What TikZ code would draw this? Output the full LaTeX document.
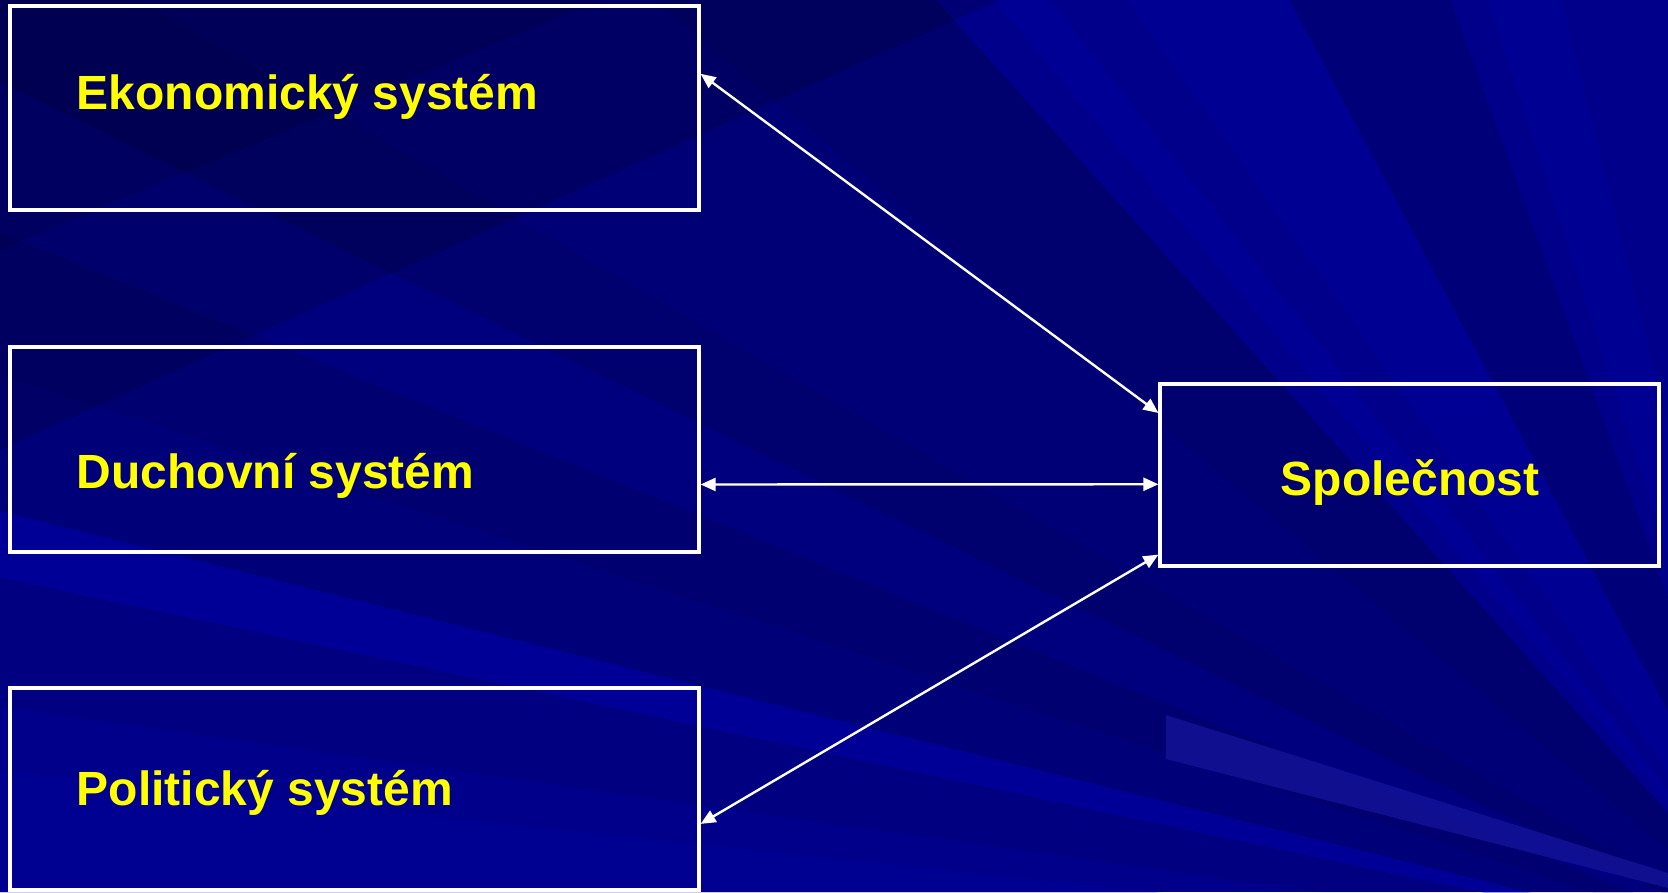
\documentclass[tikz,border=0pt]{standalone}
\usepackage{fontspec}
\setmainfont{Liberation Sans}
\usetikzlibrary{arrows.meta,calc}
\definecolor{bgbase}{RGB}{0,0,138}
\definecolor{bglight}{RGB}{0,0,175}
\definecolor{streak}{RGB}{22,22,158}
\definecolor{txtyellow}{RGB}{255,255,0}
\tikzset{
  sysbox/.style={draw=white, line width=3.2pt, rectangle, inner sep=0pt},
  systext/.style={text=txtyellow, font=\fontsize{48}{56}\selectfont\bfseries, inner sep=0pt},
  link/.style={draw=white, line width=2.4pt, {Triangle[length=15pt,width=13pt]}-{Triangle[length=15pt,width=13pt]}},
  raydark/.style={fill=black, fill opacity=#1, draw=none},
  raylight/.style={fill=bglight, fill opacity=#1, draw=none}
}
\begin{document}
\begin{tikzpicture}[x=1pt,y=-1pt]
\useasboundingbox (0,0) rectangle (1668,892);
% background
\fill[bgbase] (0,0) rectangle (1668,892);
\begin{scope}
\clip (0,0) rectangle (1668,892);
\coordinate (C) at (1800,960);
\foreach \a/\b/\o in {8/12/0.06, 14/18/0.12, 18/22/0.18, 26/30/0.2, 30/40/0.14, 40/48/0.2, 62/70/0.12, 22/26/0.08}{
  \fill[raydark=\o] (C) -- ++({-3000*cos(\a)},{-3000*sin(\a)}) -- ({1800-3000*cos(\b)},{960-3000*sin(\b)}) -- cycle;
}
\foreach \a/\b/\o in {12/14/0.35, 55/62/0.25, 2/6/0.2, 50/52/0.3, 72/76/0.25}{
  \fill[raylight=\o] (C) -- ++({-3000*cos(\a)},{-3000*sin(\a)}) -- ({1800-3000*cos(\b)},{960-3000*sin(\b)}) -- cycle;
}
\fill[black, fill opacity=0.15] (0,0) -- (1000,0) -- (0,450) -- cycle;
\fill[black, fill opacity=0.1] (0,0) -- (600,0) -- (0,250) -- cycle;
\fill[streak, fill opacity=0.7] (1166,715) -- (1668,873) -- (1668,888) -- (1166,759) -- cycle;
\end{scope}
% boxes
\node[sysbox, minimum width=689pt, minimum height=204pt] (eko) at (354.5,108) {};
\node[sysbox, minimum width=689pt, minimum height=205pt] (duch) at (354.5,449.5) {};
\node[sysbox, minimum width=689pt, minimum height=202pt] (pol) at (354.5,789) {};
\node[sysbox, minimum width=499pt, minimum height=182pt] (spol) at (1409.5,475) {};
% texts
\node[systext, anchor=base west] (ekot) at (76.5,109) {Ekonomický systém};
\node[systext, anchor=base west] (ducht) at (76.5,488.5) {Duchovní systém};
\node[systext, anchor=base west] (polt) at (76.5,805.5) {Politický systém};
\node[systext, anchor=base] (spolt) at (1410,495) {Společnost};
% connectors
\draw[link] ($(eko.north east)!0.335!(eko.south east)$) -- ($(spol.north west)!0.165!(spol.south west)$);
\draw[link] ($(duch.north east)!0.668!(duch.south east)$) -- ($(spol.north west)!0.55!(spol.south west)$);
\draw[link] ($(pol.north east)!0.67!(pol.south east)$) -- ($(spol.north west)!0.93!(spol.south west)$);
\end{tikzpicture}
\end{document}
